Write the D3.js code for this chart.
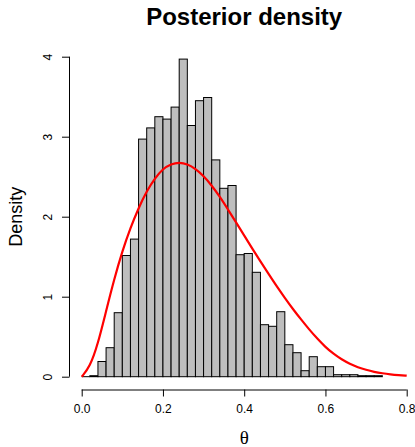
<!DOCTYPE html>
<html>
<head>
<meta charset="utf-8">
<script src="https://cdn.jsdelivr.net/npm/d3@7"></script>
<style>
  html, body { margin: 0; padding: 0; background: #ffffff; }
  svg { display: block; }
  text { font-family: "Liberation Sans", Arial, Helvetica, sans-serif; fill: #000; }
</style>
</head>
<body>
<svg id="chart" width="415" height="447"></svg>
<script>
// ---- data ----
const binStart = [0.00,0.02,0.04,0.06,0.08,0.10,0.12,0.14,0.16,0.18,0.20,0.22,0.24,0.26,0.28,0.30,0.32,0.34,0.36,0.38,
                  0.40,0.42,0.44,0.46,0.48,0.50,0.52,0.54,0.56,0.58,0.60,0.62,0.64,0.66,0.68,0.70,0.72];
const binWidth = 0.02;
const density = [0, 0.0125, 0.19, 0.3625, 0.80, 1.515, 1.72, 2.97, 3.11, 3.25, 3.22, 3.37, 3.97, 3.14, 3.45, 3.49, 2.71, 2.355, 2.39, 1.525,
                 1.54, 1.305, 0.65, 0.63, 0.8125, 0.40, 0.30, 0.075, 0.25, 0.125, 0.125, 0.025, 0.025, 0.025, 0.0125, 0.0125, 0.0125];
const curveTheta = [0.00,0.02,0.04,0.06,0.08,0.10,0.12,0.14,0.16,0.18,0.20,0.22,0.24,0.26,0.28,0.30,0.32,0.34,0.36,0.38,0.40,
                    0.42,0.44,0.46,0.48,0.50,0.52,0.54,0.56,0.58,0.60,0.62,0.64,0.66,0.68,0.70,0.72,0.74,0.76,0.78,0.80];
const curveDensity = [0, 0.12, 0.41, 0.82, 1.22, 1.57, 1.86, 2.11, 2.32, 2.48, 2.60, 2.66, 2.68, 2.66, 2.60, 2.51, 2.39, 2.25, 2.09, 1.93, 1.765,
                      1.60, 1.44, 1.285, 1.13, 0.985, 0.845, 0.715, 0.59, 0.475, 0.37, 0.285, 0.215, 0.16, 0.117, 0.085, 0.06, 0.042, 0.029, 0.02, 0.013];
const xTicks = [0, 0.2, 0.4, 0.6, 0.8];
const xTickLabels = ["0.0", "0.2", "0.4", "0.6", "0.8"];
const yTicks = [0, 1, 2, 3, 4];
const titleText = "Posterior density";
const xLabel = "θ";
const yLabel = "Density";

// ---- drawing ----
const svg = d3.select("#chart");
const x = d3.scaleLinear().domain([0, 0.8]).range([81.7, 406.7]);
const y = d3.scaleLinear().domain([0, 4]).range([376.7, 56.7]);

const bins = binStart.map((s, i) => ({ s, d: density[i] }));

// bars
svg.append("g").selectAll("rect")
  .data(bins.filter(b => b.d > 0))
  .join("rect")
  .attr("x", d => x(d.s))
  .attr("y", d => y(d.d))
  .attr("width", d => x(d.s + binWidth) - x(d.s))
  .attr("height", d => y(0) - y(d.d))
  .attr("fill", "#bebebe")
  .attr("stroke", "#000")
  .attr("stroke-width", 1);

// zero-height bins drawn as a flat outline on the baseline
svg.append("g").selectAll("line")
  .data(bins.filter(b => b.d === 0))
  .join("line")
  .attr("x1", d => x(d.s)).attr("x2", d => x(d.s + binWidth))
  .attr("y1", y(0)).attr("y2", y(0))
  .attr("stroke", "#000").attr("stroke-width", 1);

// density curve
const line = d3.line()
  .x((d, i) => x(curveTheta[i]))
  .y(d => y(d))
  .curve(d3.curveBasis);
svg.append("path")
  .datum(curveDensity)
  .attr("d", line)
  .attr("fill", "none")
  .attr("stroke", "#ff0000")
  .attr("stroke-width", 2.2);

// x axis
const xAxis = d3.axisBottom(x).tickValues(xTicks).tickFormat((d, i) => xTickLabels[i]).tickSize(7).tickPadding(8);
const gx = svg.append("g").attr("transform", "translate(0,389.5)").call(xAxis);
gx.select(".domain").attr("d", `M${x(0)},0.5H${x(0.8)}`).attr("stroke", "#000");
gx.selectAll("text").attr("font-size", 12).attr("font-family", "Liberation Sans, Arial, sans-serif");

// y axis
const yAxis = d3.axisLeft(y).tickValues(yTicks).tickSize(7).tickFormat(d3.format("d"));
const gy = svg.append("g").attr("transform", "translate(69,0)").call(yAxis);
gy.select(".domain").attr("d", `M0.5,${y(0)}V${y(4)}`).attr("stroke", "#000");
gy.selectAll(".tick line").attr("x1", 0.5).attr("x2", -7);
gy.selectAll("text")
  .attr("font-size", 12)
  .attr("font-family", "Liberation Sans, Arial, sans-serif")
  .attr("x", null).attr("dy", null)
  .attr("text-anchor", "middle")
  .attr("transform", "translate(-17,0) rotate(-90)");

// title
svg.append("text").attr("x", x(0.4)).attr("y", 25)
  .attr("text-anchor", "middle").attr("font-size", 24).attr("font-weight", "bold")
  .text(titleText);

// x label
svg.append("text").attr("x", x(0.4)).attr("y", 444)
  .attr("text-anchor", "middle").attr("font-size", 19)
  .style("font-family", "Liberation Serif, Times New Roman, serif")
  .text(xLabel);

// y label
svg.append("text").attr("transform", `translate(22,${y(2)}) rotate(-90)`)
  .attr("text-anchor", "middle").attr("font-size", 18)
  .text(yLabel);
</script>
</body>
</html>
